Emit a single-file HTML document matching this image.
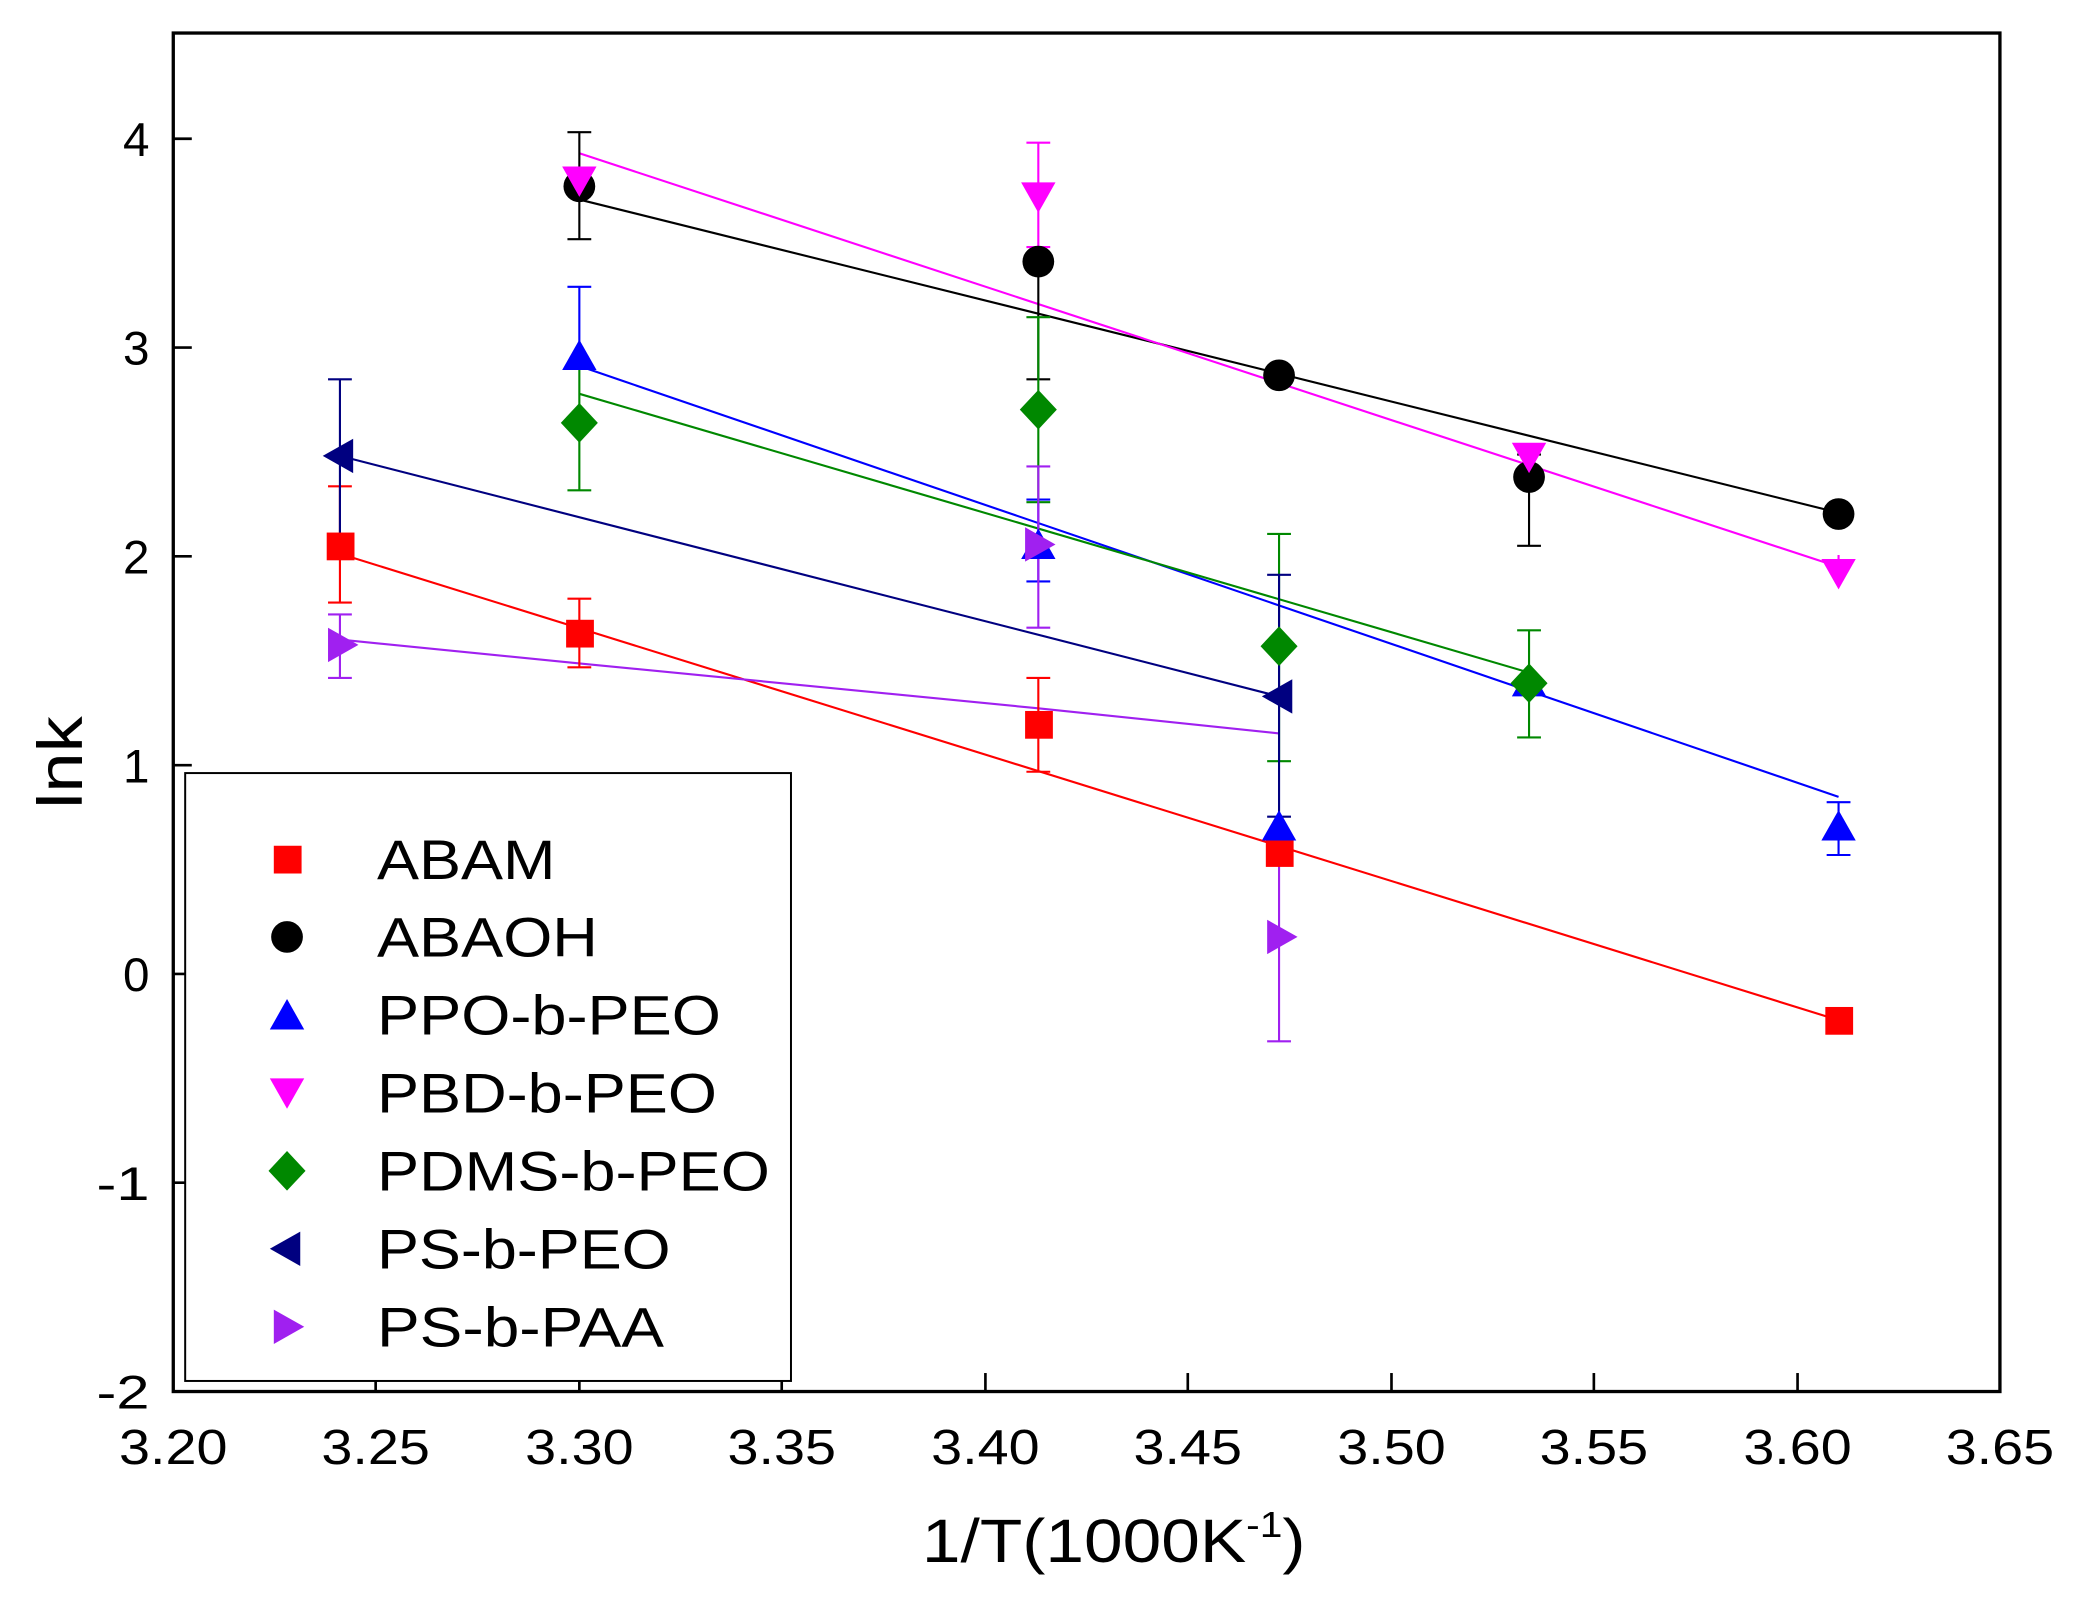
<!DOCTYPE html>
<html><head><style>html,body{margin:0;padding:0;background:#fff}svg{display:block}</style></head>
<body>
<svg width="2074" height="1599" viewBox="0 0 1568 1210" preserveAspectRatio="none" xmlns="http://www.w3.org/2000/svg" font-family="Liberation Sans, Arial, sans-serif">
<rect x="131" y="25" width="1381" height="1028" fill="none" stroke="#000" stroke-width="2.5"/>
<g stroke="#000" stroke-width="2">
<line x1="131" y1="105" x2="145" y2="105"/><line x1="131" y1="263" x2="145" y2="263"/><line x1="131" y1="421" x2="145" y2="421"/><line x1="131" y1="579" x2="145" y2="579"/><line x1="131" y1="737" x2="145" y2="737"/><line x1="131" y1="895" x2="145" y2="895"/>
<line x1="284" y1="1053" x2="284" y2="1039"/><line x1="438" y1="1053" x2="438" y2="1039"/><line x1="591" y1="1053" x2="591" y2="1039"/><line x1="745" y1="1053" x2="745" y2="1039"/><line x1="898" y1="1053" x2="898" y2="1039"/><line x1="1052" y1="1053" x2="1052" y2="1039"/><line x1="1205" y1="1053" x2="1205" y2="1039"/><line x1="1359" y1="1053" x2="1359" y2="1039"/>
</g>
<g font-size="36" text-anchor="end" fill="#000">
<text x="113" y="118">4</text><text x="113" y="276">3</text><text x="113" y="434">2</text><text x="113" y="592">1</text><text x="113" y="750">0</text><text x="113" y="908" textLength="40" lengthAdjust="spacingAndGlyphs">-1</text><text x="113" y="1066" textLength="40" lengthAdjust="spacingAndGlyphs">-2</text>
</g>
<g font-size="37" fill="#000">
<text x="90" y="1108" textLength="82" lengthAdjust="spacingAndGlyphs">3.20</text><text x="243" y="1108" textLength="82" lengthAdjust="spacingAndGlyphs">3.25</text><text x="397" y="1108" textLength="82" lengthAdjust="spacingAndGlyphs">3.30</text><text x="550" y="1108" textLength="82" lengthAdjust="spacingAndGlyphs">3.35</text><text x="704" y="1108" textLength="82" lengthAdjust="spacingAndGlyphs">3.40</text><text x="857" y="1108" textLength="82" lengthAdjust="spacingAndGlyphs">3.45</text><text x="1011" y="1108" textLength="82" lengthAdjust="spacingAndGlyphs">3.50</text><text x="1164" y="1108" textLength="82" lengthAdjust="spacingAndGlyphs">3.55</text><text x="1318" y="1108" textLength="82" lengthAdjust="spacingAndGlyphs">3.60</text><text x="1471" y="1108" textLength="82" lengthAdjust="spacingAndGlyphs">3.65</text>
</g>
<text x="697" y="1182" font-size="46" textLength="290" lengthAdjust="spacingAndGlyphs">1/T(1000K<tspan font-size="27" dy="-19">-1</tspan><tspan dy="19">)</tspan></text>
<text transform="translate(62,577) rotate(-90)" font-size="48" text-anchor="middle" textLength="70" lengthAdjust="spacingAndGlyphs">lnk</text>

<g stroke-width="1.6" fill="none">
<line x1="257" y1="419" x2="1390" y2="772" stroke="#f00"/>
<line x1="438" y1="151" x2="1390" y2="388" stroke="#000"/>
<line x1="438" y1="277" x2="1390" y2="603" stroke="#00f"/>
<line x1="438" y1="116" x2="1390" y2="429" stroke="#f0f"/>
<line x1="438" y1="298" x2="1156" y2="509" stroke="#080"/>
<line x1="257" y1="345" x2="967" y2="527" stroke="#000080"/>
<polyline points="257,484 438,502 785,536 967,555" stroke="#a020f0"/>
</g>
<g stroke-width="1.6" fill="none">
<path stroke="#f00" d="M257,456V368M248,456h18M248,368h18M438,505V453M429,505h18M429,453h18M785,584V513M776,584h18M776,513h18"/>
<path stroke="#000" d="M438,181V100M429,181h18M429,100h18M785,287V200M776,287h18M1156,413V344M1147,413h18M1147,344h18"/>
<path stroke="#00f" d="M438,270V217M429,217h18M785,440V378M776,440h18M776,378h18M1390,647V607M1381,647h18M1381,607h18"/>
<path stroke="#f0f" d="M438,152V130M429,130h18M785,187V108M776,187h18M776,108h18M1390,440V420"/>
<path stroke="#080" d="M438,371V270M429,371h18M785,380V240M776,380h18M776,240h18M967,576V404M958,576h18M958,404h18M1156,558V477M1147,558h18M1147,477h18"/>
<path stroke="#000080" d="M257,405V287M248,287h18M967,618V435M958,435h18M958,618h18"/>
<path stroke="#a020f0" d="M257,513V465M248,513h18M248,465h18M785,475V353M776,475h18M776,353h18M967,788V630M958,788h18"/>
</g>
<g fill="#f00"><rect x="247" y="403" width="21" height="21"/><rect x="428" y="469" width="21" height="21"/><rect x="775" y="538" width="21" height="21"/><rect x="957" y="635" width="21" height="21"/><rect x="1380" y="762" width="21" height="21"/></g>
<g fill="#000"><circle cx="438" cy="141" r="12"/><circle cx="785" cy="198" r="12"/><circle cx="967" cy="284" r="12"/><circle cx="1156" cy="361" r="12"/><circle cx="1390" cy="389" r="12"/></g>
<g fill="#00f"><path d="M438,257l13,23h-26z"/><path d="M785,400l13,23h-26z"/><path d="M967,613l13,23h-26z"/><path d="M1156,504l13,23h-26z"/><path d="M1390,613l13,23h-26z"/></g>
<g fill="#f0f"><path d="M438,149l13,-23h-26z"/><path d="M785,161l13,-23h-26z"/><path d="M1156,358l13,-23h-26z"/><path d="M1390,446l13,-23h-26z"/></g>
<g fill="#080"><path d="M438,305l14,15l-14,15l-14,-15z"/><path d="M785,295l14,15l-14,15l-14,-15z"/><path d="M967,474l14,15l-14,15l-14,-15z"/><path d="M1156,502l14,15l-14,15l-14,-15z"/></g>
<g fill="#000080"><path d="M244,345l23,-13v26z"/><path d="M954,527l23,-13v26z"/></g>
<g fill="#a020f0"><path d="M271,488l-23,-13v26z"/><path d="M798,412l-23,-13v26z"/><path d="M981,709l-23,-13v26z"/></g>

<rect x="140" y="585" width="458" height="460" fill="#fff" stroke="#000" stroke-width="1.5"/>
<rect x="207" y="640" width="21" height="21" fill="#f00"/>
<circle cx="217" cy="709" r="12" fill="#000"/>
<path d="M217,756l13,23h-26z" fill="#00f"/>
<path d="M217,839l13,-23h-26z" fill="#f0f"/>
<path d="M217,871l14,15l-14,15l-14,-15z" fill="#080"/>
<path d="M204,945l23,-13v26z" fill="#000080"/>
<path d="M230,1004l-23,-13v26z" fill="#a020f0"/>
<g font-size="42" fill="#000">
<text x="285" y="665" textLength="135" lengthAdjust="spacingAndGlyphs">ABAM</text><text x="285" y="724" textLength="167" lengthAdjust="spacingAndGlyphs">ABAOH</text><text x="285" y="783" textLength="260" lengthAdjust="spacingAndGlyphs">PPO-b-PEO</text><text x="285" y="842" textLength="257" lengthAdjust="spacingAndGlyphs">PBD-b-PEO</text><text x="285" y="901" textLength="297" lengthAdjust="spacingAndGlyphs">PDMS-b-PEO</text><text x="285" y="960" textLength="222" lengthAdjust="spacingAndGlyphs">PS-b-PEO</text><text x="285" y="1019" textLength="217" lengthAdjust="spacingAndGlyphs">PS-b-PAA</text>
</g>
</svg>
</body></html>
